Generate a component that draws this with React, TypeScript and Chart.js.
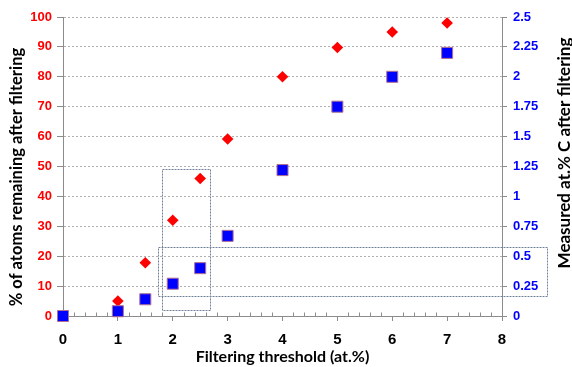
import React, { useEffect, useRef } from "react";
import { Chart, registerables } from "chart.js";

Chart.register(...registerables);

// ---- data ----
const atomThresholds = [1, 1.5, 2, 2.5, 3, 4, 5, 6, 7];
const atomsRemaining = [5, 17.8, 32, 46, 59.2, 80, 89.8, 95, 98];
const carbonThresholds = [0, 1, 1.5, 2, 2.5, 3, 4, 5, 6, 7];
const measuredCarbon = [0, 0.04, 0.14, 0.27, 0.4, 0.67, 1.22, 1.75, 2.0, 2.2];

const xMajorTicks = [0, 1, 2, 3, 4, 5, 6, 7, 8];
const xMinorDivisions = 5;
const leftTicks = [0, 10, 20, 30, 40, 50, 60, 70, 80, 90, 100];
const rightTicks = [0, 0.25, 0.5, 0.75, 1, 1.25, 1.5, 1.75, 2, 2.25, 2.5];

const xTitle = "Filtering threshold (at.%)";
const leftTitle = "% of atoms remaining after filtering";
const rightTitle = "Measured at.% C after filtering";

// highlight boxes in data units (x range, left-axis y range)
const boxXRanges = [
  [1.81, 2.67],
  [1.74, 8.82],
];
const boxYRanges = [
  [2, 49.2],
  [6.6, 23],
];

const AXIS_GRAY = "#8c8c8c";
const GRID_GRAY = "#b0b0b0";
const NUM_FONT = "'Liberation Sans', Arial, sans-serif";
const TITLE_FONT = "Lato, 'Liberation Sans', sans-serif";

const isInt = (v: number) => Math.abs(v - Math.round(v)) < 1e-6;

const overlayPlugin = {
  id: "overlay",
  afterDraw(chart: any) {
    const { ctx, chartArea, scales } = chart;
    const xs = scales.x;
    const ys = scales.y;
    ctx.save();
    // minor ticks (upward)
    ctx.strokeStyle = AXIS_GRAY;
    ctx.lineWidth = 1;
    ctx.setLineDash([]);
    xs.ticks.forEach((t: any) => {
      if (isInt(t.value)) return;
      const px = Math.round(xs.getPixelForValue(t.value)) + 0.5;
      const py = Math.round(chartArea.bottom) + 0.5;
      ctx.beginPath();
      ctx.moveTo(px, py);
      ctx.lineTo(px, py - 4);
      ctx.stroke();
    });
    // highlight boxes
    ctx.strokeStyle = "#6f8198";
    ctx.setLineDash([2, 1]);
    boxXRanges.forEach((xr, i) => {
      const yr = boxYRanges[i];
      const x0 = Math.round(xs.getPixelForValue(xr[0])) + 0.5;
      const x1 = Math.round(xs.getPixelForValue(xr[1])) + 0.5;
      const y0 = Math.round(ys.getPixelForValue(yr[1])) + 0.5;
      const y1 = Math.round(ys.getPixelForValue(yr[0])) + 0.5;
      ctx.strokeRect(x0, y0, x1 - x0, y1 - y0);
    });
    ctx.setLineDash([]);
    // axis titles
    ctx.fillStyle = "#000";
    ctx.textAlign = "center";
    ctx.textBaseline = "middle";
    ctx.font = `bold 16px ${TITLE_FONT}`;
    ctx.fillText(xTitle, (chartArea.left + chartArea.right) / 2, chartArea.bottom + 41);
    ctx.font = `bold 16.5px ${TITLE_FONT}`;
    ctx.save();
    ctx.translate(chartArea.left - 46, 177);
    ctx.rotate(-Math.PI / 2);
    ctx.fillText(leftTitle, 0, 0);
    ctx.restore();
    ctx.font = `bold 17px ${TITLE_FONT}`;
    ctx.save();
    ctx.translate(chartArea.right + 63, 153);
    ctx.rotate(-Math.PI / 2);
    ctx.fillText(rightTitle, 0, 0);
    ctx.restore();
    ctx.restore();
  },
};

export default function App() {
  const ref = useRef<HTMLCanvasElement | null>(null);
  useEffect(() => {
    document.body.style.margin = "0";
    const canvas = ref.current;
    if (!canvas) return;
    const xTickValues: number[] = [];
    for (let i = 0; i < xMajorTicks.length; i++) {
      xTickValues.push(xMajorTicks[i]);
      if (i < xMajorTicks.length - 1) {
        const step = (xMajorTicks[i + 1] - xMajorTicks[i]) / xMinorDivisions;
        for (let k = 1; k < xMinorDivisions; k++) xTickValues.push(xMajorTicks[i] + k * step);
      }
    }
    const chart = new Chart(canvas, {
      type: "scatter",
      data: {
        datasets: [
          {
            label: "Measured at.% C",
            data: carbonThresholds.map((x, i) => ({ x, y: measuredCarbon[i] })),
            yAxisID: "y1",
            pointStyle: "rect",
            pointRadius: 7.8,
            pointBackgroundColor: "#0000ff",
            pointBorderColor: "#b07090",
            pointBorderWidth: 1,
            showLine: false,
            clip: false,
          },
          {
            label: "% atoms remaining",
            data: atomThresholds.map((x, i) => ({ x, y: atomsRemaining[i] })),
            yAxisID: "y",
            pointStyle: "rectRot",
            pointRadius: 5.8,
            pointBackgroundColor: "#ff0000",
            pointBorderColor: "#ff0000",
            pointBorderWidth: 0,
            showLine: false,
            clip: false,
          },
        ],
      },
      options: {
        responsive: false,
        animation: false,
        devicePixelRatio: 1,
        layout: { padding: { top: 17, left: 0, right: 0, bottom: 0 } },
        plugins: { legend: { display: false }, tooltip: { enabled: false } },
        scales: {
          x: {
            type: "linear",
            position: "bottom",
            min: 0,
            max: 8,
            afterFit: (s: any) => {
              s.height = 51;
            },
            afterBuildTicks: (s: any) => {
              s.ticks = xTickValues.map((v) => ({ value: v }));
            },
            ticks: {
              autoSkip: false,
              maxRotation: 0,
              minRotation: 0,
              padding: 10,
              color: "#000",
              font: { family: NUM_FONT, size: 15, weight: "bold" },
              callback: (v: any) => (isInt(Number(v)) ? String(Math.round(Number(v))) : ""),
            },
            grid: {
              drawOnChartArea: false,
              drawTicks: true,
              tickLength: 5,
              tickColor: (c: any) => (c.tick && isInt(c.tick.value) ? AXIS_GRAY : "rgba(0,0,0,0)"),
            },
            border: { color: AXIS_GRAY, width: 1 },
          },
          y: {
            type: "linear",
            position: "left",
            min: 0,
            max: 100,
            afterFit: (s: any) => {
              s.width = 63;
            },
            afterBuildTicks: (s: any) => {
              s.ticks = leftTicks.map((v) => ({ value: v }));
            },
            ticks: {
              padding: 5,
              color: "#ff0000",
              font: { family: NUM_FONT, size: 13, weight: "bold" },
              callback: (v: any) => String(v),
            },
            grid: {
              drawOnChartArea: true,
              drawTicks: true,
              tickLength: 6,
              color: GRID_GRAY,
              tickColor: AXIS_GRAY,
              tickBorderDash: [],
            },
            border: { color: AXIS_GRAY, width: 1, dash: [2, 2] },
          },
          y1: {
            type: "linear",
            position: "right",
            min: 0,
            max: 2.5,
            afterFit: (s: any) => {
              s.width = 70;
            },
            afterBuildTicks: (s: any) => {
              s.ticks = rightTicks.map((v) => ({ value: v }));
            },
            ticks: {
              padding: 6,
              color: "#0000ff",
              font: { family: NUM_FONT, size: 13, weight: "bold" },
              callback: (v: any) => String(Math.round(Number(v) * 100) / 100),
            },
            grid: {
              drawOnChartArea: false,
              drawTicks: true,
              tickLength: 5,
              tickColor: AXIS_GRAY,
            },
            border: { color: AXIS_GRAY, width: 1 },
          },
        },
      } as any,
      plugins: [overlayPlugin],
    });
    return () => chart.destroy();
  }, []);
  return (
    <div style={{ width: 572, height: 367, background: "#fff" }}>
      <canvas ref={ref} width={572} height={367} style={{ display: "block" }} />
    </div>
  );
}
